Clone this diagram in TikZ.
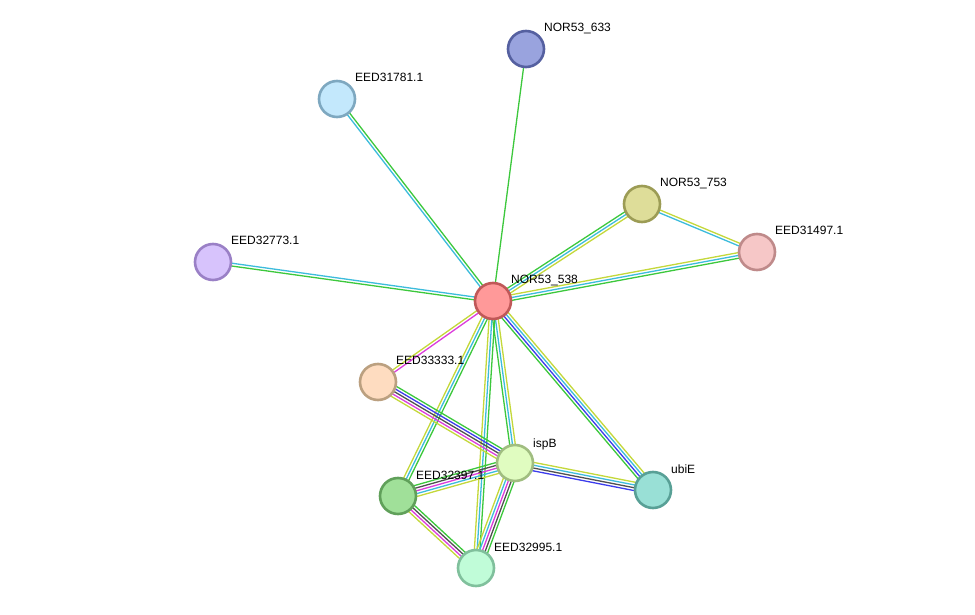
\documentclass[tikz,border=0pt]{standalone}
\usepackage{fontspec}
\setmainfont{Liberation Sans}
\usetikzlibrary{calc}
\pgfdeclarelayer{back}
\pgfdeclarelayer{bg}
\pgfsetlayers{back,bg,main}
\definecolor{sgreen}{HTML}{3CC83C}
\definecolor{scyan}{HTML}{3CBCDC}
\definecolor{syellow}{HTML}{C4D83A}
\definecolor{smagenta}{HTML}{DC3CDC}
\definecolor{sblue}{HTML}{3C3CEC}
\definecolor{sblack}{HTML}{505050}
\newcommand\stringedge[4]{%
  \foreach \col [count=\i] in {#4}{%
    \pgfmathsetmacro\off{(\i-(#3+1)/2)*2.8}%
    \draw[color=\col, line width=1.3pt]
      ($(#1.center)!\off pt!90:(#2.center)$) -- ($(#2.center)!\off pt!-90:(#1.center)$);
  }}
\tikzset{
  prot/.style={circle, minimum size=36pt, inner sep=0pt, line width=2.6pt},
  lbl/.style={anchor=base west, font=\fontsize{12}{14}\selectfont, inner sep=0pt}
}
\begin{document}
\begin{tikzpicture}[x=1pt,y=1pt]
\begin{pgfonlayer}{back}
\fill[white] (0,0) rectangle (975,614);
\end{pgfonlayer}
\useasboundingbox (0,0) rectangle (975,614);
% nodes
\node[prot, fill={rgb,255:red,153;green,163;blue,222}, draw={rgb,255:red,85;green,96;blue,160}] (p633) at (526,565) {};
\node[prot, fill={rgb,255:red,195;green,232;blue,252}, draw={rgb,255:red,126;green,168;blue,192}] (p31781) at (337,515) {};
\node[prot, fill={rgb,255:red,222;green,221;blue,153}, draw={rgb,255:red,156;green,156;blue,85}] (p753) at (642,410) {};
\node[prot, fill={rgb,255:red,246;green,199;blue,199}, draw={rgb,255:red,191;green,138;blue,138}] (p31497) at (757,362) {};
\node[prot, fill={rgb,255:red,215;green,195;blue,252}, draw={rgb,255:red,154;green,128;blue,198}] (p32773) at (213,352) {};
\node[prot, fill={rgb,255:red,255;green,153;blue,153}, draw={rgb,255:red,192;green,88;blue,88}] (p538) at (493,313) {};
\node[prot, fill={rgb,255:red,254;green,220;blue,192}, draw={rgb,255:red,187;green,160;blue,128}] (p33333) at (378,232) {};
\node[prot, fill={rgb,255:red,224;green,252;blue,192}, draw={rgb,255:red,160;green,189;blue,128}] (pispB) at (515,151) {};
\node[prot, fill={rgb,255:red,153;green,224;blue,214}, draw={rgb,255:red,88;green,160;blue,150}] (pubiE) at (653,124) {};
\node[prot, fill={rgb,255:red,160;green,224;blue,153}, draw={rgb,255:red,96;green,160;blue,90}] (p32397) at (398,118) {};
\node[prot, fill={rgb,255:red,192;green,252;blue,216}, draw={rgb,255:red,128;green,192;blue,156}] (p32995) at (476,46) {};
% labels
\node[lbl] (t633) at ($(p633.center)+(18,17)$) {NOR53\_633};
\node[lbl] (t31781) at ($(p31781.center)+(18,17)$) {EED31781.1};
\node[lbl] (t753) at ($(p753.center)+(18,17)$) {NOR53\_753};
\node[lbl] (t31497) at ($(p31497.center)+(18,17)$) {EED31497.1};
\node[lbl] (t32773) at ($(p32773.center)+(18,17)$) {EED32773.1};
\node[lbl] (t538) at ($(p538.center)+(18,17)$) {NOR53\_538};
\node[lbl] (t33333) at ($(p33333.center)+(18,17)$) {EED33333.1};
\node[lbl] (tispB) at ($(pispB.center)+(18,16)$) {ispB};
\node[lbl] (tubiE) at ($(pubiE.center)+(18,17)$) {ubiE};
\node[lbl] (t32397) at ($(p32397.center)+(18,17)$) {EED32397.1};
\node[lbl] (t32995) at ($(p32995.center)+(18,17)$) {EED32995.1};
% edges
\begin{pgfonlayer}{bg}
\stringedge{p538}{p633}{1}{sgreen}
\stringedge{p538}{p31781}{2}{sgreen,scyan}
\stringedge{p538}{p32773}{2}{scyan,sgreen}
\stringedge{p538}{p753}{3}{syellow,scyan,sgreen}
\stringedge{p538}{p31497}{3}{sgreen,scyan,syellow}
\stringedge{p753}{p31497}{2}{scyan,syellow}
\stringedge{p538}{p33333}{2}{syellow,smagenta}
\stringedge{p538}{pubiE}{4}{sgreen,sblue,scyan,syellow}
\stringedge{p538}{pispB}{3}{sgreen,scyan,syellow}
\stringedge{p538}{p32397}{3}{syellow,scyan,sgreen}
\stringedge{p538}{p32995}{3}{syellow,scyan,sgreen}
\stringedge{p33333}{pispB}{5}{syellow,smagenta,sblack,sblue,sgreen}
\stringedge{p32397}{pispB}{5}{syellow,scyan,smagenta,sblack,sgreen}
\stringedge{p32397}{p32995}{4}{syellow,smagenta,sblack,sgreen}
\stringedge{pispB}{p32995}{5}{syellow,scyan,smagenta,sblack,sgreen}
\stringedge{pispB}{pubiE}{4}{sblue,sblack,scyan,syellow}
\end{pgfonlayer}
\end{tikzpicture}
\end{document}
